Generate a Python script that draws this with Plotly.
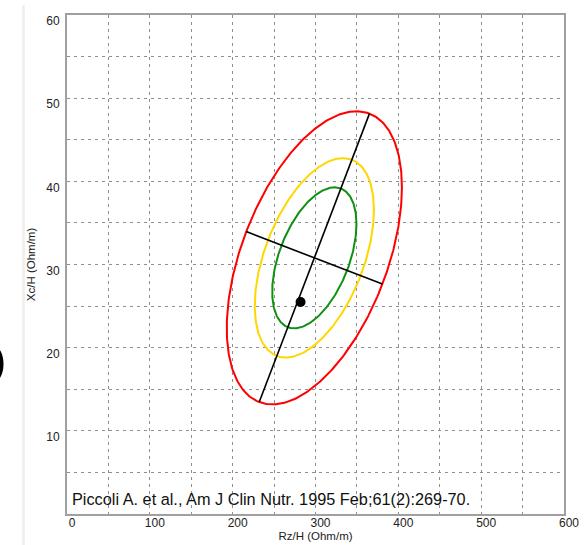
import numpy as np
import plotly.graph_objects as go

# ---- data ----
rz_mean = 298.6      # Rz/H mean (Ohm/m)
xc_mean = 30.8       # Xc/H mean (Ohm/m)
rz_sd = 43.2
xc_sd = 7.2
r_corr = 0.48
tolerance_levels = [0.95, 0.75, 0.50]
subject_rz = [282.0]
subject_xc = [25.5]

x_tickvals = [0, 50, 100, 150, 200, 250, 300, 350, 400, 450, 500, 550, 600]
x_ticktext = ["0", "", "100", "", "200", "", "300", "", "400", "", "500", "", "600"]
y_tickvals = [0, 5, 10, 15, 20, 25, 30, 35, 40, 45, 50, 55, 60]
y_ticktext = ["", "", "10", "", "20", "", "30", "", "40", "", "50", "", "60"]
x_range = [0, 600]
y_range = [0, 60]
citation = "Piccoli A. et al., Am J Clin Nutr. 1995 Feb;61(2):269-70."

# ---- styles ----
ellipse_colors = ["#ff0000", "#ffd700", "#109010"]
grid_color = "#8f8f8f"
font_family = "Liberation Sans, Arial, sans-serif"

W, H = 585, 545
ML, MR, MT, MB = 67, 21, 15, 31
PW, PH = W - ML - MR, H - MT - MB


def px_to_paper_x(px):
    return (px - ML) / PW


def px_to_paper_y(py):
    return (H - MB - py) / PH


def kfac(p):
    return np.sqrt(-2.0 * np.log(1.0 - p))


fig = go.Figure()

t = np.linspace(0, 2 * np.pi, 361)
for p, col in zip(tolerance_levels, ellipse_colors):
    k = kfac(p)
    ex = rz_mean + k * rz_sd * np.cos(t)
    ey = xc_mean + k * xc_sd * (r_corr * np.cos(t) + np.sqrt(1 - r_corr ** 2) * np.sin(t))
    fig.add_trace(go.Scatter(x=ex, y=ey, mode="lines",
                             line=dict(color=col, width=2), hoverinfo="skip",
                             showlegend=False))

# principal axes of the 95% ellipse (in the plot's normalised display space)
ratio = (x_range[1] - x_range[0]) / (y_range[1] - y_range[0])
cov = np.array([[rz_sd ** 2, r_corr * rz_sd * xc_sd * ratio],
                [r_corr * rz_sd * xc_sd * ratio, (xc_sd * ratio) ** 2]])
vals, vecs = np.linalg.eigh(cov)
k95 = kfac(tolerance_levels[0])
for i in range(2):
    v = vecs[:, i] * k95 * np.sqrt(vals[i])
    fig.add_trace(go.Scatter(
        x=[rz_mean - v[0], rz_mean + v[0]],
        y=[xc_mean - v[1] / ratio, xc_mean + v[1] / ratio],
        mode="lines", line=dict(color="black", width=1.6),
        hoverinfo="skip", showlegend=False))

fig.add_trace(go.Scatter(x=subject_rz, y=subject_xc, mode="markers",
                         marker=dict(color="black", size=10),
                         showlegend=False, hoverinfo="skip"))

axis_common = dict(
    showgrid=True, gridcolor=grid_color, griddash="3px,4px", gridwidth=1,
    zeroline=False, showline=True, mirror=True, linecolor="#a0a0a0",
    linewidth=2, ticks="", automargin=False,
    tickfont=dict(family=font_family, size=12, color="#222"),
)

fig.update_layout(
    width=W, height=H,
    margin=dict(l=ML, r=MR, t=MT, b=MB),
    paper_bgcolor="white", plot_bgcolor="white",
    showlegend=False,
    xaxis=dict(range=x_range, tickmode="array", tickvals=x_tickvals,
               ticktext=x_ticktext, ticklabelshift=5, ticklabelstandoff=-3,
               title=dict(text="Rz/H (Ohm/m)", standoff=0,
                          font=dict(family=font_family, size=11.5, color="#222")),
               **axis_common),
    yaxis=dict(range=y_range, tickmode="array", tickvals=y_tickvals,
               ticktext=y_ticktext, ticklabelshift=6, ticklabelstandoff=3,
               title=dict(text="Xc/H (Ohm/m)", standoff=8,
                          font=dict(family=font_family, size=11.5, color="#222")),
               **axis_common),
    annotations=[
        dict(text=citation, xref="paper", yref="paper", x=0, y=px_to_paper_y(499),
             xanchor="left", yanchor="middle", xshift=3, showarrow=False,
             font=dict(family=font_family, size=16.3, color="#111")),
    ],
    shapes=[
        dict(type="line", xref="paper", yref="paper",
             x0=px_to_paper_x(23.5), x1=px_to_paper_x(23.5),
             y0=px_to_paper_y(546), y1=px_to_paper_y(5),
             line=dict(color="#f0f0f0", width=3)),
        dict(type="circle", xref="paper", yref="paper",
             x0=px_to_paper_x(-16), x1=px_to_paper_x(3.5),
             y0=px_to_paper_y(382), y1=px_to_paper_y(346),
             fillcolor="black", line=dict(width=0)),
    ],
)

fig.write_html("out.html", config={"displayModeBar": False},
               post_script="document.body.style.margin='0';document.body.style.overflow='hidden';")
